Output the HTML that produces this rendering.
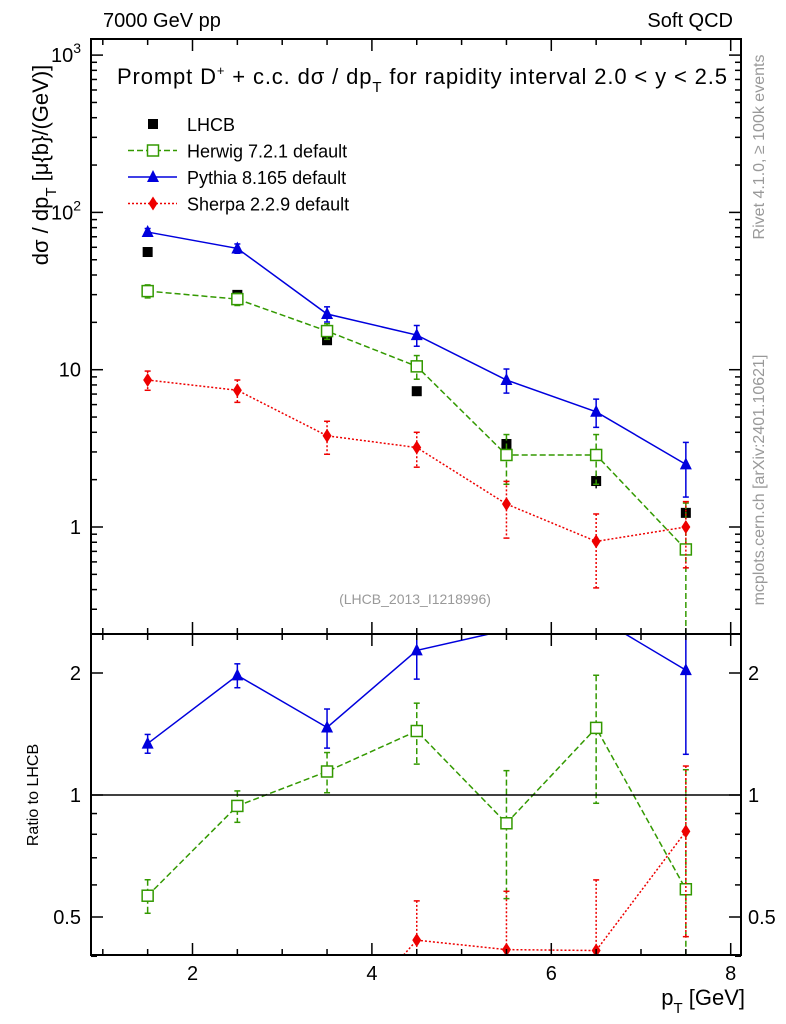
<!DOCTYPE html>
<html><head><meta charset="utf-8"><style>
html,body{margin:0;padding:0;background:#fff;overflow:hidden}
svg{font-family:"Liberation Sans",sans-serif;display:block}
</style></head><body>
<svg id="c" width="786" height="1024" viewBox="0 0 786 1024" xmlns="http://www.w3.org/2000/svg"></svg>
<script>
const xs=[1.5,2.5,3.5,4.5,5.5,6.5,7.5];
const lhcb=[56,29.9,15.4,7.3,3.37,1.96,1.23];
const lhcbErr=[3,2,1,0.5,0.3,0.2,0.1];
const herwig=[31.6,28.1,17.6,10.5,2.87,2.87,0.72];
const herwigErr=[3,2.5,2,1.8,1.0,1.0,0.7];
const pythia=[75,59,22.6,16.6,8.6,5.4,2.5];
const pythiaErr=[4,4,2.5,2.5,1.5,1.1,0.95];
const sherpa=[8.6,7.4,3.8,3.2,1.4,0.81,1.0];
const sherpaErr=[1.2,1.2,0.9,0.8,0.55,0.4,0.45];
const mainTicks=[1,10,100,1000];
const mainTickLabels=["1","10","10²","10³"];
const ratioTicks=[0.5,1,2];
const xTicks=[2,4,6,8];
const S="http://www.w3.org/2000/svg",svg=document.getElementById('c');
function el(t,a,p){const e=document.createElementNS(S,t);for(const k in a)e.setAttribute(k,a[k]);(p||svg).appendChild(e);return e;}
const L=91,R=741,T=39,D=634,B=955;
const X=v=>192.5+(v-2)*89.7;
const Y=v=>527-Math.log10(v)*157.3;
const YR=v=>795-Math.log2(v)*122;
const ig=el('g',{});
const rg=el('g',{});
const cpm=el('clipPath',{id:'cm'});el('rect',{x:L,y:T,width:R-L,height:D-T},cpm);
const cpr=el('clipPath',{id:'cr'});el('rect',{x:L,y:D,width:R-L,height:B-D},cpr);
el('rect',{x:L,y:T,width:R-L,height:B-T,fill:'none',stroke:'#000','stroke-width':2});
el('line',{x1:L,x2:R,y1:D,y2:D,stroke:'#000','stroke-width':2});
for(let v=1;v<=8.01;v+=0.5){const maj=Math.abs(v-Math.round(v/2)*2)<0.01;const l=maj?12:6;const x=X(v);
for(const yy of [T,D,B]){el('line',{x1:x,x2:x,y1:yy-(yy==T?0:l),y2:yy+(yy==B?0:l),stroke:'#000','stroke-width':1.5});}}
xTicks.forEach(v=>{const t=el('text',{x:X(v),y:980,'font-size':20,'text-anchor':'middle'});t.textContent=v;});
for(let d=-1;d<4;d++)for(let m=1;m<10;m++){const v=Math.pow(10,d)*m;const y=Y(v);if(y<T||y>D)continue;const l=m==1?12:6;
el('line',{x1:L,x2:L+l,y1:y,y2:y,stroke:'#000','stroke-width':1.5});el('line',{x1:R,x2:R-l,y1:y,y2:y,stroke:'#000','stroke-width':1.5});}
mainTicks.forEach((v,i)=>{const t=el('text',{x:81,y:Y(v)+7,'font-size':20,'text-anchor':'end'});
if(v>=100){t.textContent='10';const s=el('tspan',{dy:-9,'font-size':14},t);s.textContent=i==2?'2':'3';}else t.textContent=mainTickLabels[i];
});
[0.4,0.5,0.6,0.7,0.8,0.9,1,2].forEach(v=>{const y=YR(v);const l=(v==0.5||v==1||v==2)?12:6;el('line',{x1:L,x2:L+l,y1:y,y2:y,stroke:'#000','stroke-width':1.5});el('line',{x1:R,x2:R-l,y1:y,y2:y,stroke:'#000','stroke-width':1.5});});
ratioTicks.forEach(v=>{for(const [x,a] of [[81,'end'],[748,'start']]){const t=el('text',{x:x,y:YR(v)+7,'font-size':20,'text-anchor':a});t.textContent=v;}});
el('line',{x1:L,x2:R,y1:YR(1),y2:YR(1),stroke:'#000','stroke-width':1.5});
function tx(x,y,s,sz,a,name,extra){const t=el('text',Object.assign({x:x,y:y,'font-size':sz,'text-anchor':a||'start'},extra||{}));t.textContent=s;return t;}
tx(103,27,'7000 GeV pp',20,'start','energy-label');
tx(733,27,'Soft QCD',20,'end','process-label');
const ti=tx(117,84,'',22,'start','plot-title',{textLength:610,lengthAdjust:'spacing'});ti.innerHTML='Prompt D<tspan dy="-9" font-size="13">+</tspan><tspan dy="9"> + c.c.  dσ / dp</tspan><tspan dy="8" font-size="15">T</tspan><tspan dy="-8"> for rapidity interval 2.0 &lt; y &lt; 2.5</tspan>';
tx(415,604,'(LHCB_2013_I1218996)',14,'middle','analysis-id',{fill:'#999'});
const yl=tx(0,0,'',22,'middle','y-axis-title',{transform:'translate(48,165) rotate(-90)'});yl.innerHTML='dσ / dp<tspan dy="8" font-size="15">T</tspan><tspan dy="-8"> [μ{b}/(GeV)]</tspan>';
tx(0,0,'Ratio to LHCB',16,'middle','ratio-axis-title',{transform:'translate(38,795) rotate(-90)'});
const xl=tx(745,1005,'',22,'end','x-axis-title');xl.innerHTML='p<tspan dy="8" font-size="15">T</tspan><tspan dy="-8"> [GeV]</tspan>';
tx(0,0,'Rivet 4.1.0, ≥ 100k events',16,'middle','rivet-label',{transform:'translate(764,147) rotate(-90)',fill:'#999'});
tx(0,0,'mcplots.cern.ch [arXiv:2401.10621]',16,'middle','mcplots-label',{transform:'translate(764,480) rotate(-90)',fill:'#999'});
function marker(g,type,x,y,col){if(type=='sq')el('rect',{x:x-5,y:y-5,width:10,height:10,fill:'#000'},g);
else if(type=='osq')el('rect',{x:x-5.5,y:y-5.5,width:11,height:11,fill:'#fff',stroke:col,'stroke-width':1.5},g);
else if(type=='tri')el('polygon',{points:`${x},${y-7} ${x-6},${y+5} ${x+6},${y+5}`,fill:col},g);
else el('polygon',{points:`${x},${y-7} ${x-4.5},${y} ${x},${y+7} ${x+4.5},${y}`,fill:col},g);}
const series=[
 {n:'herwig',v:herwig,e:herwigErr,c:'#339900',dash:'6,3',m:'osq'},
 {n:'pythia',v:pythia,e:pythiaErr,c:'#0000dd',dash:'',m:'tri'},
 {n:'sherpa',v:sherpa,e:sherpaErr,c:'#ee0000',dash:'2,2',m:'dia'}];
const gl=el('g',{'clip-path':'url(#cm)'},ig);
xs.forEach((x,i)=>{el('line',{x1:X(x),x2:X(x),y1:Y(lhcb[i]+lhcbErr[i]),y2:Y(lhcb[i]-lhcbErr[i]),stroke:'#000','stroke-width':1.5},gl);marker(gl,'sq',X(x),Y(lhcb[i]));});
series.forEach(s=>{
 for(const [panel,fy,vals,errs,cp] of [['main',Y,s.v,s.e,'cm'],['ratio',YR,s.v.map((v,i)=>v/lhcb[i]),s.e.map((e,i)=>e/lhcb[i]),'cr']]){
  const g=el('g',{'clip-path':`url(#${cp})`},panel=='main'?ig:rg);
  
  el('polyline',{points:xs.map((x,i)=>X(x)+','+fy(vals[i])).join(' '),fill:'none',stroke:s.c,'stroke-width':1.5,'stroke-dasharray':s.dash},g);
  xs.forEach((x,i)=>{if(panel=='ratio'&&vals[i]>2.5)return;const lo=Math.max(vals[i]-errs[i],1e-3);el('line',{x1:X(x),x2:X(x),y1:fy(vals[i]+errs[i]),y2:fy(lo),stroke:s.c,'stroke-width':1.5,'stroke-dasharray':s.dash},g);
   for(const yy of [fy(vals[i]+errs[i]),fy(lo)])el('line',{x1:X(x)-3,x2:X(x)+3,y1:yy,y2:yy,stroke:s.c,'stroke-width':1.5},g);
   marker(g,s.m,X(x),fy(vals[i]),s.c);});
 }});
const lg=el('g',{});
const leg=[['LHCB','#000','','sq'],['Herwig 7.2.1 default','#339900','6,3','osq'],['Pythia 8.165 default','#0000dd','','tri'],['Sherpa 2.2.9 default','#ee0000','2,2','dia']];
leg.forEach((l,i)=>{const y=124+i*26.5;const g=el('g',{},lg);
 if(i>0)el('line',{x1:128,x2:177,y1:y,y2:y,stroke:l[1],'stroke-width':1.5,'stroke-dasharray':l[2]},g);
 marker(g,l[3],153,y,l[1]);const t=el('text',{x:187,y:y+7,'font-size':18},g);t.textContent=l[0];});
</script>
</body></html>
